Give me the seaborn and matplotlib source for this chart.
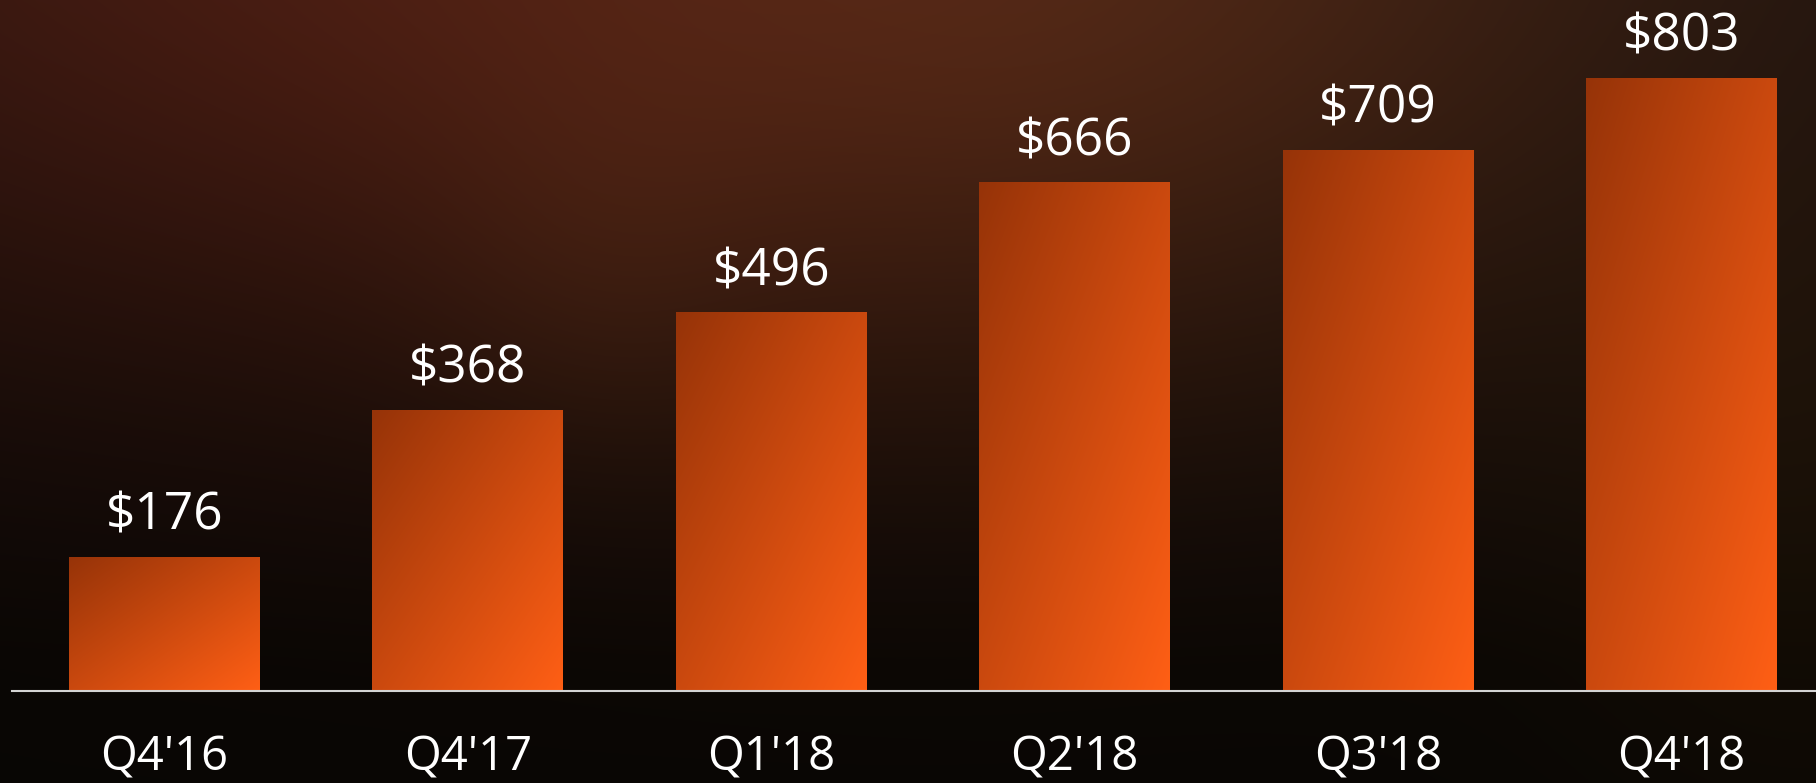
import matplotlib
matplotlib.use("Agg")
import matplotlib.pyplot as plt
import numpy as np
import pandas as pd
import seaborn as sns

# Revenue by quarter
quarters = ["Q4'16", "Q4'17", "Q1'18", "Q2'18", "Q3'18", "Q4'18"]
revenue = [176, 368, 496, 666, 709, 803]
value_labels = ["$176", "$368", "$496", "$666", "$709", "$803"]

sns.set_theme(style="white")
plt.rcParams["font.family"] = ["Open Sans", "DejaVu Sans"]

W, H, DPI = 1816, 783, 100
fig = plt.figure(figsize=(W / DPI, H / DPI), dpi=DPI)


def background_image():
    """Dark brown backdrop with warm glows near the top"""
    yy, xx = np.mgrid[0:H, 0:W].astype(float)
    top = np.array([0x1c, 0x12, 0x0e]) / 255
    bottom = np.array([0x08, 0x06, 0x04]) / 255
    t = np.clip(yy / (H * 0.85), 0, 1)[..., None]
    img = top * (1 - t) + bottom * t

    def glow(cx, cy, sx, sy, color):
        g = np.exp(-(((xx - cx) / sx) ** 2 + ((yy - cy) / sy) ** 2) / 2)
        return g[..., None] * (np.array(color) / 255)

    img = img + glow(330, -40, 520, 300, (0x24, 0x07, 0x03))
    img = img + glow(1060, 0, 440, 300, (0x28, 0x13, 0x07))
    img = img + glow(600, 280, 120, 140, (0x08, 0x05, 0x02))
    img = img + glow(1816, 500, 200, 250, (0x0a, 0x06, 0x00))
    return np.clip(img, 0, 1)


bg_ax = fig.add_axes([0, 0, 1, 1], zorder=0)
bg_ax.imshow(background_image(), aspect="auto", extent=(0, 1, 0, 1))
bg_ax.set_axis_off()

ax = fig.add_axes([12 / W, 92 / H, 1 - 12 / W, 691 / H], zorder=1)
ax.set_facecolor("none")

df = pd.DataFrame({"quarter": quarters, "revenue": revenue})
sns.barplot(data=df, x="quarter", y="revenue", width=0.629, color="#d04c10",
            ax=ax, linewidth=0, zorder=2)

# Diagonal gradient fill in each bar (dark top-left to bright bottom-right)
c0 = np.array([0x96, 0x33, 0x08]) / 255
c1 = np.array([0xff, 0x5f, 0x15]) / 255
u = np.linspace(0, 1, 200)[None, :]
for patch in ax.patches:
    x0, w, h = patch.get_x(), patch.get_width(), patch.get_height()
    v = np.linspace(0, 1, 400)[:, None]
    t = ((u + v) / 2)[..., None]
    grad = c0 * (1 - t) + c1 * t
    im = ax.imshow(grad, extent=(x0, x0 + w, 0, h), origin="upper",
                   aspect="auto", zorder=3)
    im.set_clip_path(patch)

for i, (val, lab) in enumerate(zip(revenue, value_labels)):
    ax.annotate(lab, (i, val), xytext=(0, 19.5), textcoords="offset points",
                ha="center", va="baseline", color="white", fontsize=37, zorder=4)

ax.set_xlim(-0.5026, 5.443)
ax.set_ylim(0, 905)
ax.set_xlabel("")
ax.set_ylabel("")
ax.set_yticks([])
ax.tick_params(axis="x", length=0, pad=31, labelsize=34, labelcolor="white")
for s in ["top", "right", "left"]:
    ax.spines[s].set_visible(False)
ax.spines["bottom"].set_color("#d4d4d4")
ax.spines["bottom"].set_linewidth(1.5)
ax.spines["bottom"].set_zorder(5)

fig.savefig("out.png", dpi=DPI)
plt.close(fig)
